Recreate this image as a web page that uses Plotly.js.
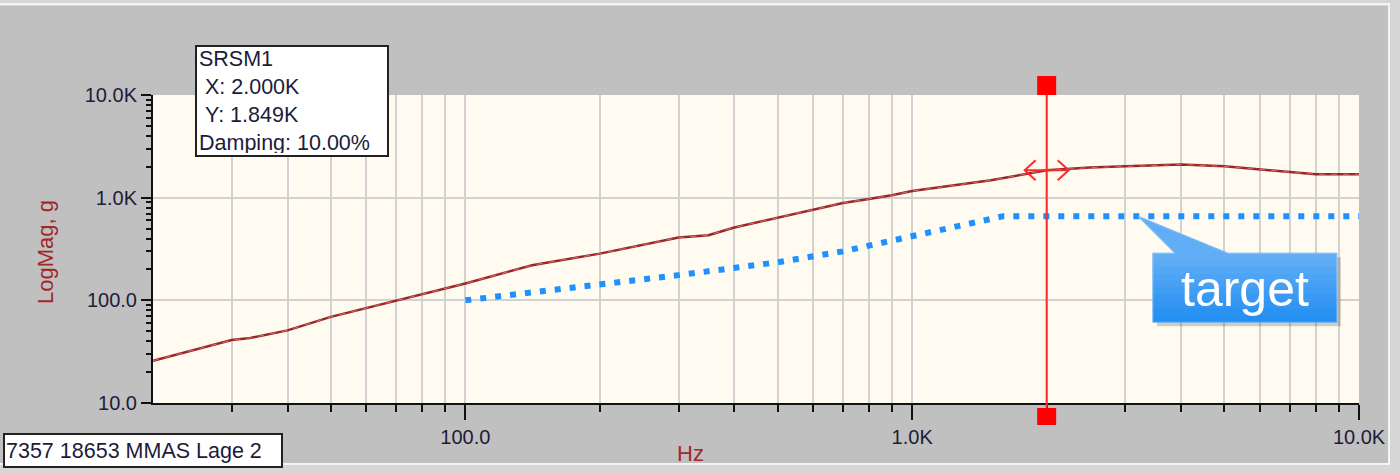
<!DOCTYPE html>
<html>
<head>
<meta charset="utf-8">
<script src="https://cdn.plot.ly/plotly-3.0.1.min.js"></script>
<style>
  html, body { margin: 0; padding: 0; background: #c8c8c8; }
  #chart { width: 1400px; height: 474px; }
</style>
</head>
<body>
<div id="chart"></div>
<script>
// ---- data ----
const srsFreq = [20, 30, 33, 40, 50, 60, 70, 80, 100, 141, 200, 300, 350, 400, 500, 600, 700, 800, 900, 1000, 1500, 2000, 2500, 3000, 4000, 5000, 6000, 7000, 8000, 9000, 10000];
const srsG    = [25.8, 41, 43, 51, 69, 84, 99, 115, 146, 220, 285, 409, 431, 512, 640, 766, 888, 971, 1055, 1161, 1476, 1849, 1963, 2019, 2099, 2019, 1888, 1779, 1690, 1690, 1690];

const targetFreq = [100, 200, 300, 500, 700, 1600, 10000];
const targetG    = [100, 140, 176, 235, 300, 660, 660];

const xTickVals  = [100, 1000, 10000];
const xTickText  = ['100.0', '1.0K', '10.0K'];
const yTickVals  = [10, 100, 1000, 10000];
const yTickText  = ['10.0', '100.0', '1.0K', '10.0K'];

const cursorX = 2000;
const cursorY = 1849;
const calloutX = 3200;   // where the "target" callout points
const calloutY = 660;

const legendText = 'SRSM1<br>\u00a0X: 2.000K<br>\u00a0Y: 1.849K<br>Damping: 10.00%';
const footText = '7357 18653 MMAS Lage 2';

// ---- minor tick positions (2..9 in each decade) ----
function minorTicks(lo, hi) {
  const out = [];
  for (let d = lo; d < hi; d *= 10) for (let m = 2; m <= 9; m++) out.push(m * d);
  return out;
}
const xMinor = minorTicks(10, 10000).filter(v => v > 20);
const yMinor = minorTicks(10, 10000);

// ---- layout geometry (pixels) ----
const W = 1400, H = 474;
const M = { l: 153, r: 41, t: 95, b: 71 };
const PW = W - M.l - M.r, PH = H - M.t - M.b;
const px = x => (x - M.l) / PW;
const py = y => (H - M.b - y) / PH;

const FONT = 'Liberation Sans, Arial, sans-serif';
const TXT = '#1c1c3a';
const DARKRED = '#a0282a';

const traces = [
  {
    x: srsFreq, y: srsG, type: 'scatter', mode: 'lines',
    line: { color: '#9a2626', width: 2.5 }, hoverinfo: 'skip'
  },
  {
    x: srsFreq, y: srsG, type: 'scatter', mode: 'lines',
    line: { color: '#d07070', width: 1, dash: '6px,6px' }, hoverinfo: 'skip'
  },
  {
    x: targetFreq, y: targetG, type: 'scatter', mode: 'lines',
    line: { color: '#1e90ff', width: 6, dash: '6px,9px' }, hoverinfo: 'skip'
  }
];

const calloutPath = 'M 0 0 L 90 -37 L 199 -37 L 199 -106 L 15 -106 L 15 -37 L 37 -37 Z';
const calloutShadow = 'M 4 -4 L 94 -41 L 203 -41 L 203 -110 L 19 -110 L 19 -41 L 41 -41 Z';

// gradient bands for the callout box (light at top, deeper blue at bottom)
const bandShapes = [];
const nBands = 10;
for (let i = 0; i < nBands; i++) {
  const yTop = -37 - i * 69 / nBands;
  const yBot = -37 - (i + 1) * 69 / nBands;
  const alpha = 0.30 * (1 - i / nBands);
  bandShapes.push({ type: 'path', xref: 'x', yref: 'y', xsizemode: 'pixel', ysizemode: 'pixel', xanchor: calloutX, yanchor: calloutY,
    path: `M 15 ${yTop} L 199 ${yTop} L 199 ${yBot} L 15 ${yBot} Z`, fillcolor: `rgba(255,255,255,${alpha.toFixed(3)})`, line: { width: 0 } });
}

const shapes = [
  // outer frame highlights
  { type: 'rect', xref: 'paper', yref: 'paper', x0: px(0), x1: px(1400), y0: py(0), y1: py(6), fillcolor: '#d6d6d6', line: { width: 0 }, layer: 'below' },
  { type: 'line', xref: 'paper', yref: 'paper', x0: px(0), x1: px(1390), y0: py(4), y1: py(4), line: { color: '#f4f4f4', width: 2 } },
  { type: 'line', xref: 'paper', yref: 'paper', x0: px(1389), x1: px(1389), y0: py(4), y1: py(464), line: { color: '#f4f4f4', width: 2 } },
  { type: 'rect', xref: 'paper', yref: 'paper', x0: px(1390), x1: px(1400), y0: py(0), y1: py(474), fillcolor: '#d6d6d6', line: { width: 0 } },
  { type: 'line', xref: 'paper', yref: 'paper', x0: px(0), x1: px(1390), y0: py(464), y1: py(464), line: { color: '#f4f4f4', width: 2 } },
  { type: 'rect', xref: 'paper', yref: 'paper', x0: px(0), x1: px(1400), y0: py(465), y1: py(474), fillcolor: '#d6d6d6', line: { width: 0 } },

  // cursor line and handles
  { type: 'line', xref: 'x', yref: 'paper', x0: cursorX, x1: cursorX, y0: py(417), y1: py(86), line: { color: '#ff2a2a', width: 2 } },
  { type: 'path', xref: 'x', yref: 'paper', xsizemode: 'pixel', ysizemode: 'pixel', xanchor: cursorX, yanchor: 1,
    path: 'M -9.5 0 L 9.5 0 L 9.5 19 L -9.5 19 Z', fillcolor: '#ff0000', line: { width: 0 } },
  { type: 'path', xref: 'x', yref: 'paper', xsizemode: 'pixel', ysizemode: 'pixel', xanchor: cursorX, yanchor: 0,
    path: 'M -9.5 -5 L 9.5 -5 L 9.5 -22 L -9.5 -22 Z', fillcolor: '#ff0000', line: { width: 0 } },
  // cursor arrows
  { type: 'path', xref: 'x', yref: 'y', xsizemode: 'pixel', ysizemode: 'pixel', xanchor: cursorX, yanchor: cursorY,
    path: 'M -22 0 L 22 0 M -11 10 L -22 0 L -11 -10 M 11 10 L 22 0 L 11 -10', line: { color: '#ff2a2a', width: 2 } },

  // "target" callout
  { type: 'path', xref: 'x', yref: 'y', xsizemode: 'pixel', ysizemode: 'pixel', xanchor: calloutX, yanchor: calloutY,
    path: calloutShadow, fillcolor: 'rgba(0,0,0,0.18)', line: { width: 0 } },
  { type: 'path', xref: 'x', yref: 'y', xsizemode: 'pixel', ysizemode: 'pixel', xanchor: calloutX, yanchor: calloutY,
    path: calloutPath, fillcolor: '#1f8cf2', line: { color: '#62b2f6', width: 1 } },
  { type: 'path', xref: 'x', yref: 'y', xsizemode: 'pixel', ysizemode: 'pixel', xanchor: calloutX, yanchor: calloutY,
    path: 'M 0 0 L 90 -37 L 37 -37 Z', fillcolor: 'rgba(255,255,255,0.30)', line: { width: 0 } }
].concat(bandShapes);

const annotations = [
  { xref: 'paper', yref: 'paper', x: px(195), y: py(45), xanchor: 'left', yanchor: 'top',
    text: legendText, showarrow: false, align: 'left', width: 186, height: 104, valign: 'middle',
    bgcolor: '#ffffff', bordercolor: '#222222', borderwidth: 2, borderpad: 2,
    font: { family: FONT, size: 21.5, color: TXT } },
  { xref: 'paper', yref: 'paper', x: px(3), y: py(433), xanchor: 'left', yanchor: 'top',
    text: footText, showarrow: false, align: 'left', width: 274, height: 29, valign: 'middle',
    bgcolor: '#ffffff', bordercolor: '#222222', borderwidth: 2, borderpad: 1,
    font: { family: FONT, size: 21.5, color: TXT } },
  { xref: 'paper', yref: 'paper', x: px(45), y: py(252), xanchor: 'center', yanchor: 'middle', textangle: -90, showarrow: false,
    text: 'LogMag, g', font: { family: FONT, size: 22, color: DARKRED } },
  { xref: 'paper', yref: 'paper', x: px(690), y: py(453), xanchor: 'center', yanchor: 'middle', showarrow: false,
    text: 'Hz', font: { family: FONT, size: 22, color: DARKRED } },
  { xref: 'paper', yref: 'paper', x: px(1245), y: py(289), xanchor: 'center', yanchor: 'middle', showarrow: false,
    text: 'target', font: { family: FONT, size: 50, color: '#ffffff' } }
];

const layout = {
  width: W, height: H,
  margin: M,
  paper_bgcolor: '#c0c0c0',
  plot_bgcolor: '#fffbf0',
  showlegend: false,
  font: { family: FONT, size: 20, color: TXT },
  xaxis: {
    type: 'log', range: [Math.log10(20), 4],
    tickmode: 'array', tickvals: xTickVals, ticktext: xTickText,
    ticks: 'outside', ticklen: 15, tickwidth: 2, tickcolor: '#111',
    showline: true, linecolor: '#111', linewidth: 2,
    showgrid: true, gridcolor: '#d2d2d2', gridwidth: 2,
    zeroline: false, tickfont: { family: FONT, size: 20, color: TXT },
    minor: { tickmode: 'array', tickvals: xMinor, ticks: 'outside', ticklen: 7, tickwidth: 2, tickcolor: '#111',
             showgrid: true, gridcolor: '#d2d2d2', gridwidth: 2 },
    fixedrange: true
  },
  yaxis: {
    type: 'log', range: [1, 4],
    tickmode: 'array', tickvals: yTickVals, ticktext: yTickText,
    ticks: 'outside', ticklen: 10, tickwidth: 2, tickcolor: '#111',
    showline: true, linecolor: '#111', linewidth: 2,
    showgrid: true, gridcolor: '#d2d2d2', gridwidth: 2,
    zeroline: false, tickfont: { family: FONT, size: 20, color: TXT },
    minor: { tickmode: 'array', tickvals: yMinor, ticks: 'outside', ticklen: 5, tickwidth: 2, tickcolor: '#111', showgrid: false },
    fixedrange: true
  },
  shapes: shapes,
  annotations: annotations
};

Plotly.newPlot('chart', traces, layout, { staticPlot: true, displayModeBar: false });
</script>
</body>
</html>
